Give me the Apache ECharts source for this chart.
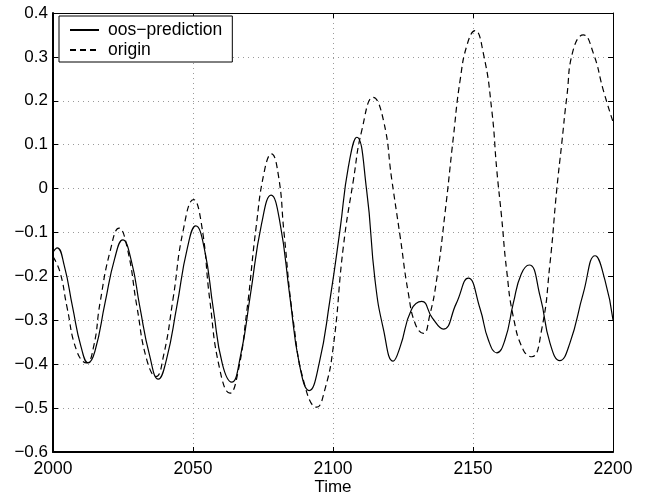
<!DOCTYPE html>
<html>
<head>
<meta charset="utf-8">
<script src="https://cdn.jsdelivr.net/npm/echarts@6/dist/echarts.min.js"></script>
<style>
html,body{margin:0;padding:0;background:#fff;}
#chart{width:645px;height:497px;}
</style>
</head>
<body>
<div id="chart"></div>
<script>
// ---- data ----
const xTicks = [2000, 2050, 2100, 2150, 2200];
const yTicks = [-0.6, -0.5, -0.4, -0.3, -0.2, -0.1, 0, 0.1, 0.2, 0.3, 0.4];

const predYears = [2000, 2001.5, 2004, 2007, 2010, 2012.6, 2015, 2018.6, 2022, 2024.9,
  2028, 2031, 2034.5, 2037.6, 2040.5, 2044.2, 2048, 2051, 2054, 2057.3,
  2060.5, 2063.8, 2067, 2070.4, 2074.5, 2077.9, 2081, 2084.6, 2088, 2091.5,
  2095, 2098.9, 2102.5, 2105.5, 2108.5, 2112, 2115, 2118, 2121.5, 2124,
  2128, 2131.7, 2135.5, 2139.4, 2144, 2148.3, 2152.5, 2155.5, 2158.5, 2161.4,
  2164.4, 2167.2, 2170.1, 2174, 2177.5, 2181, 2184.6, 2189.4, 2193.6, 2197.1, 2200];
const predValues = [-0.145, -0.135, -0.175, -0.27, -0.36, -0.397, -0.37, -0.26, -0.16, -0.117,
  -0.165, -0.269, -0.38, -0.434, -0.39, -0.269, -0.135, -0.085, -0.135, -0.276,
  -0.40, -0.441, -0.38, -0.246, -0.08, -0.015, -0.075, -0.246, -0.40, -0.46,
  -0.40, -0.254, -0.094, 0.05, 0.117, -0.003, -0.208, -0.32, -0.393, -0.36,
  -0.276, -0.257, -0.295, -0.32, -0.262, -0.204, -0.273, -0.345, -0.374, -0.345,
  -0.261, -0.195, -0.174, -0.246, -0.352, -0.392, -0.352, -0.238, -0.153, -0.208, -0.299];

const originYears = [2000, 2002.5, 2005, 2008.5, 2012, 2014.5, 2016.8, 2020.5, 2023.6, 2026.5,
  2030, 2033.5, 2036.8, 2039.5, 2042.9, 2046.5, 2050.2, 2053, 2056, 2059.5,
  2063.2, 2066, 2069.2, 2072.5, 2075.5, 2078, 2080.5, 2082.5, 2085.8, 2090,
  2094.2, 2097, 2100.1, 2103.7, 2107.3, 2110.3, 2114.4, 2118, 2121, 2124,
  2126.9, 2129.5, 2132.3, 2134.5, 2137, 2140, 2143, 2145.4, 2148, 2150.7,
  2153.7, 2156.7, 2158.5, 2160.2, 2162, 2164.4, 2168, 2171, 2174.5, 2177.5,
  2179.9, 2181.7, 2183.5, 2185.8, 2189.4, 2193, 2196.5, 2200];
const originValues = [-0.155, -0.19, -0.27, -0.37, -0.397, -0.36, -0.26, -0.14, -0.09, -0.135,
  -0.27, -0.39, -0.428, -0.38, -0.25, -0.095, -0.025, -0.08, -0.254, -0.41,
  -0.466, -0.42, -0.28, -0.09, 0.04, 0.079, 0.03, -0.1, -0.3, -0.45,
  -0.498, -0.46, -0.36, -0.132, 0.02, 0.133, 0.208, 0.156, 0.02, -0.11,
  -0.238, -0.31, -0.33, -0.29, -0.208, -0.056, 0.118, 0.247, 0.33, 0.36,
  0.308, 0.179, 0.042, -0.064, -0.185, -0.292, -0.368, -0.383, -0.322, -0.17,
  -0.003, 0.103, 0.209, 0.316, 0.35, 0.308, 0.225, 0.152];

const seriesNames = ['oos\u2212prediction', 'origin'];
const xName = 'Time';

// ---- build chart ----
const zip = (xs, ys) => xs.map((x, i) => [x, ys[i]]);
const FONT = 'Liberation Sans, Arial, Helvetica, sans-serif';
const fmtY = v => { const r = Math.round(v * 10) / 10; return String(r).replace('-', '\u2212'); };

const chart = echarts.init(document.getElementById('chart'), null, {renderer: 'canvas'});
const gridStyle = {show: true, lineStyle: {color: '#9a9a9a', type: [1, 4], width: 1}};
const xBase = {type: 'value', min: xTicks[0], max: xTicks[xTicks.length - 1], interval: 50};
const yBase = {type: 'value', min: yTicks[0], max: yTicks[yTicks.length - 1], interval: 0.1};

chart.setOption({
  animation: false,
  backgroundColor: '#fff',
  textStyle: {fontFamily: FONT},
  grid: {left: 53, right: 32, top: 13, bottom: 45, containLabel: false, outerBoundsMode: 'none'},
  legend: {
    orient: 'vertical', left: 59, top: 16,
    padding: [5, 10, 3, 10], itemGap: 2, itemWidth: 29, itemHeight: 14,
    backgroundColor: '#fff', borderColor: '#000', borderWidth: 1, borderRadius: 0,
    itemStyle: {opacity: 0},
    textStyle: {fontFamily: FONT, fontSize: 17.5, color: '#000', padding: [0, 0, 0, 4]},
    data: seriesNames
  },
  xAxis: [
    Object.assign({}, xBase, {
      position: 'bottom', name: xName, nameLocation: 'middle', nameGap: 27,
      nameMoveOverlap: false,
      nameTextStyle: {fontFamily: FONT, fontSize: 17, color: '#000', verticalAlign: 'top'},
      axisLine: {show: true, onZero: false, lineStyle: {color: '#000', width: 2}},
      axisTick: {show: true, inside: true, length: 5, lineStyle: {color: '#000'}},
      axisLabel: {show: true, margin: 8, fontFamily: FONT, fontSize: 17.5, color: '#000', formatter: v => String(v)},
      splitLine: gridStyle
    }),
    Object.assign({}, xBase, {
      position: 'top',
      axisLine: {show: true, onZero: false, lineStyle: {color: '#000', width: 1}},
      axisTick: {show: true, inside: true, length: 5, lineStyle: {color: '#000'}},
      axisLabel: {show: false}, splitLine: {show: false}
    })
  ],
  yAxis: [
    Object.assign({}, yBase, {
      position: 'left',
      axisLine: {show: true, onZero: false, lineStyle: {color: '#000', width: 2}},
      axisTick: {show: true, inside: true, length: 5, lineStyle: {color: '#000'}},
      axisLabel: {show: true, margin: 5, fontFamily: FONT, fontSize: 17, color: '#000', formatter: fmtY},
      splitLine: gridStyle
    }),
    Object.assign({}, yBase, {
      position: 'right',
      axisLine: {show: true, onZero: false, lineStyle: {color: '#000', width: 1}},
      axisTick: {show: true, inside: true, length: 5, lineStyle: {color: '#000'}},
      axisLabel: {show: false}, splitLine: {show: false}
    })
  ],
  series: [
    {
      name: seriesNames[0], type: 'line', xAxisIndex: 0, yAxisIndex: 0,
      data: zip(predYears, predValues), smooth: 0.5, symbol: 'none',
      lineStyle: {color: '#000', width: 1.2, type: 'solid'},
      itemStyle: {color: '#000'}, z: 3
    },
    {
      name: seriesNames[1], type: 'line', xAxisIndex: 0, yAxisIndex: 0,
      data: zip(originYears, originValues), smooth: 0.5, symbol: 'none',
      lineStyle: {color: '#000', width: 1.2, type: [6, 4]},
      itemStyle: {color: '#000'}, z: 3
    }
  ]
});
</script>
</body>
</html>
